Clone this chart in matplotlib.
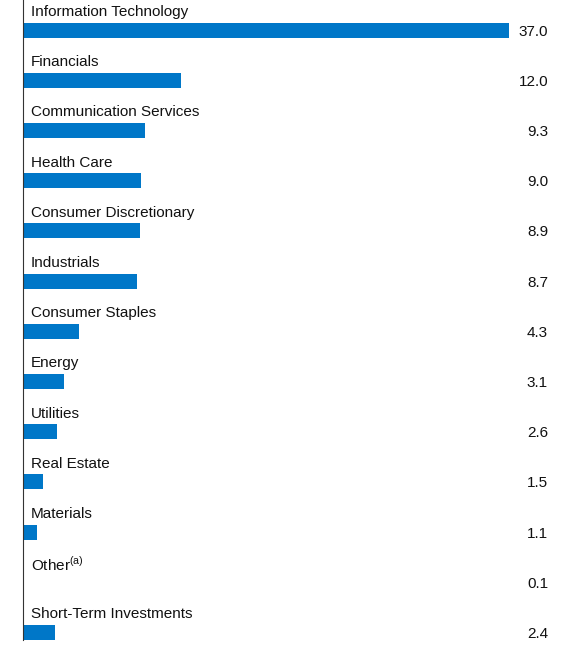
import matplotlib
matplotlib.use("Agg")
import matplotlib.pyplot as plt

categories = ["Information Technology", "Financials", "Communication Services", "Health Care",
              "Consumer Discretionary", "Industrials", "Consumer Staples", "Energy", "Utilities",
              "Real Estate", "Materials", "Other$^{\\mathrm{(a)}}$", "Short-Term Investments"]
values = [37.0, 12.0, 9.3, 9.0, 8.9, 8.7, 4.3, 3.1, 2.6, 1.5, 1.1, 0.1, 2.4]

plt.rcParams['font.family'] = ['Liberation Sans', 'DejaVu Sans']
plt.rcParams['mathtext.fontset'] = 'custom'
plt.rcParams['mathtext.rm'] = 'Liberation Sans'

fig = plt.figure(figsize=(5.73, 6.48), dpi=100)
ax = fig.add_axes([23/573, 8/648, 525/573, 640/648])
ys = list(range(len(values)))
ax.barh(ys, values, height=0.3, color="#0077C8")
for y, c, v in zip(ys, categories, values):
    ax.text(0.6, y - 0.36, c, ha="left", va="center", fontsize=11, color="#111111")
    ax.text(40, y + 0.03, f"{v:.1f}", ha="right", va="center", fontsize=11, color="#111111")
ax.set_xlim(0, 40)
ax.set_ylim(12.15, -0.6)
for s in ["top", "right", "bottom"]:
    ax.spines[s].set_visible(False)
ax.spines["left"].set_color("#333333")
ax.set_xticks([]); ax.set_yticks([])
fig.savefig("out.png", dpi=100)
